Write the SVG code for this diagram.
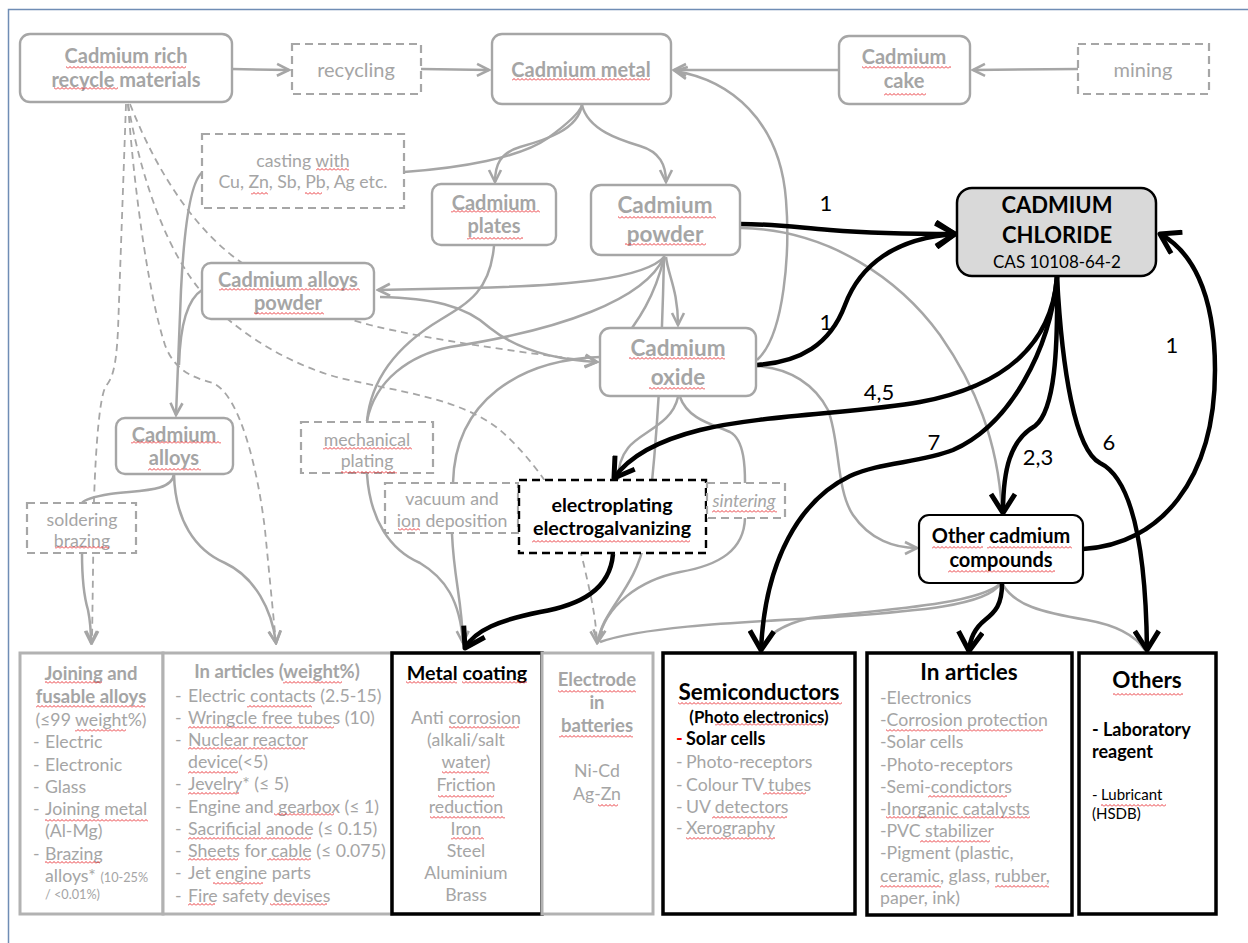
<svg xmlns="http://www.w3.org/2000/svg" width="1248" height="943" viewBox="0 0 1248 943">
<defs>
<style>
text{font-family:Lato,"Liberation Sans",sans-serif}
.n rect{fill:#fff;stroke:#a6a6a6;stroke-width:2.4}
.nd rect{fill:#fff;stroke:#a6a6a6;stroke-width:2.2;stroke-dasharray:8 5}
.gt{fill:#a5a5a5;font-weight:bold;font-size:20px;text-anchor:middle}
.gtl{fill:#a5a5a5;font-weight:bold;font-size:22.5px;text-anchor:middle}
.gr{fill:#a5a5a5;font-size:17.7px;text-anchor:middle}
.g{fill:none;stroke:#a6a6a6;stroke-width:2.5}
.d{fill:none;stroke:#a6a6a6;stroke-width:1.8;stroke-dasharray:7 5}
.b{fill:none;stroke:#000;stroke-width:4.5}
.lbl{font-size:22px;fill:#000;text-anchor:middle}
.gb{fill:#fff;stroke:#b2b2b2;stroke-width:3}
.kb{fill:#fff;stroke:#000;stroke-width:3.5}
.bh{font-weight:bold;font-size:18.5px;fill:#a5a5a5;text-anchor:middle}
.gl{font-size:17.7px;fill:#a5a5a5}
.sm{font-size:12.7px}
.kh{font-weight:bold;fill:#000;text-anchor:middle;font-size:22.5px}
.sq{fill:url(#sq)}
</style>
<pattern id="sq" width="4" height="3" patternUnits="userSpaceOnUse"><path d="M0,2.5 L2,0.5 L4,2.5" fill="none" stroke="#e8262a" stroke-width="0.9"/></pattern>
<marker id="ag" viewBox="0 0 16 16" refX="14" refY="8" markerWidth="16" markerHeight="16" orient="auto" markerUnits="userSpaceOnUse"><path d="M2,2 L14,8 L2,14" fill="none" stroke="#a6a6a6" stroke-width="2.6"/></marker>
<marker id="ab" viewBox="0 0 28 28" refX="24" refY="14" markerWidth="28" markerHeight="28" orient="auto" markerUnits="userSpaceOnUse"><path d="M5,2 L24,14 L5,26" fill="none" stroke="#000" stroke-width="5" stroke-linejoin="round"/></marker>
</defs>
<rect width="1248" height="943" fill="#fff"/>
<path d="M8.5,943 L8.5,9.5 L1248,9.5" fill="none" stroke="#6f8db5" stroke-width="1.5"/>

<g id="connectors">
<!-- gray solid -->
<path class="g" d="M232,69 L289,70" marker-end="url(#ag)"/>
<path class="g" d="M421,69 L489,70" marker-end="url(#ag)"/>
<path class="g" d="M1078,69 L973,70" marker-end="url(#ag)"/>
<path class="g" d="M839,70 L674,70" marker-end="url(#ag)"/>
<path class="g" d="M757,360 C785,335 790,250 786,200 C780,120 730,80 675,71" marker-end="url(#ag)"/>
<path class="g" d="M582,105 C578,130 545,140 520,147 C500,153 495,165 495,182" marker-end="url(#ag)"/>
<path class="g" d="M582,105 C588,130 620,140 640,146 C660,152 666,165 666,182" marker-end="url(#ag)"/>
<path class="g" d="M404,172 C460,168 520,158 548,138 C570,122 580,112 582,105"/>
<path class="g" d="M203,172 C190,180 184,230 181,290 L176,415" marker-end="url(#ag)"/>
<path class="g" d="M202,290 C186,300 180,330 179,365"/>
<path class="g" d="M665,256 C645,280 560,286 470,288 L378,290" marker-end="url(#ag)"/>
<path class="g" d="M494,246 C490,290 470,302 440,320 C410,338 372,370 367,421"/>
<path class="g" d="M664,257 C645,300 560,330 450,347 C410,355 375,380 367,421"/>
<path class="g" d="M380,297 C430,298 465,305 490,328 C520,352 560,360 597,362" marker-end="url(#ag)"/>
<path class="g" d="M664,258 C655,295 640,320 615,350"/>
<path class="g" d="M600,357 C520,360 455,400 453,483"/>
<path class="g" d="M666,257 C668,275 678,290 678,325" marker-end="url(#ag)"/>
<path class="g" d="M664,257 C662,350 658,450 645,540 C635,590 602,610 598,642" marker-end="url(#ag)"/>
<path class="g" d="M452,534 C454,580 462,600 463,643" marker-end="url(#ag)"/>
<path class="g" d="M367,474 C370,520 390,550 420,563 C445,578 460,600 463,643"/>
<path class="g" d="M678,397 C672,425 640,432 628,448 C620,458 618,470 618,480"/>
<path class="g" d="M680,397 C688,420 715,425 730,432 C745,440 745,470 745,483"/>
<path class="g" d="M745,518 C744,550 720,565 680,572 C640,580 605,605 598,642"/>
<path class="g" d="M757,366 C790,368 815,385 828,410 C840,440 836,490 853,515 C870,540 895,548 917,548" marker-end="url(#ag)"/>
<path class="g" d="M741,228 C830,230 900,280 940,335 C975,385 998,440 1002,512"/>
<path class="g" d="M1000,584 C985,608 900,612 820,618 C720,623 640,628 600,642"/>
<path class="g" d="M1000,584 C975,605 880,610 810,618 C780,625 765,637 762,650"/>
<path class="g" d="M1003,585 C1015,605 1040,612 1087,620 C1115,625 1135,635 1145,650"/>
<path class="g" d="M174,474 C172,492 140,490 110,494 C92,497 84,500 82,503"/>
<path class="g" d="M82,553 C82,580 85,600 88,610 C90,620 91,630 91,643" marker-end="url(#ag)"/>
<path class="g" d="M174,474 C175,520 195,550 225,563 C255,577 272,610 276,643" marker-end="url(#ag)"/>
<!-- gray dashed -->
<path class="d" d="M126,104 L118,330 C116,370 112,378 106,386 C100,395 96,440 94,500 L92,643" marker-end="url(#ag)"/>
<path class="d" d="M128,104 C135,200 150,300 165,345 C175,372 195,378 213,383 C240,395 258,470 265,530 L276,643" marker-end="url(#ag)"/>
<path class="d" d="M130,104 C160,180 200,235 245,265 C290,295 330,315 370,325 C430,340 520,352 597,362" marker-end="url(#ag)"/>
<path class="d" d="M128,104 C145,200 175,260 200,290 C230,330 290,365 340,378 C400,392 460,398 500,430 C540,465 575,520 585,570 C592,600 596,620 597,643" marker-end="url(#ag)"/>
<!-- black -->
<path class="b" d="M740,224 C780,224 800,228 830,230 C880,234 920,234 955,234" marker-end="url(#ab)"/>
<path class="b" d="M757,365 C800,362 830,345 845,305 C860,265 895,238 955,234" marker-end="url(#ab)"/>
<path class="b" d="M1057,277 C1052,340 1010,385 920,402 C860,413 760,415 700,430 C660,440 630,455 614,478" marker-end="url(#ab)"/>
<path class="b" d="M1057,277 C1050,350 1010,425 953,450 C920,463 880,462 850,476 C800,500 765,560 761,650" marker-end="url(#ab)"/>
<path class="b" d="M1057,277 C1058,350 1055,410 1035,426 C1010,440 1003,470 1003,513" marker-end="url(#ab)"/>
<path class="b" d="M1057,277 C1062,370 1075,450 1100,463 C1135,480 1146,560 1147,650" marker-end="url(#ab)"/>
<path class="b" d="M1083,549 C1160,545 1215,480 1215,370 C1215,290 1190,250 1160,234" marker-end="url(#ab)"/>
<path class="b" d="M613,554 C610,590 580,605 540,612 C500,620 475,630 465,648" marker-end="url(#ab)"/>
<path class="b" d="M1002,584 C1002,605 995,612 985,620 C975,628 970,638 969,651" marker-end="url(#ab)"/>
<!-- labels -->
<text class="lbl" x="826" y="211">1</text>
<text class="lbl" x="826" y="330">1</text>
<text class="lbl" x="879" y="400">4,5</text>
<text class="lbl" x="934" y="450">7</text>
<text class="lbl" x="1038" y="465">2,3</text>
<text class="lbl" x="1109" y="450">6</text>
<text class="lbl" x="1172" y="353">1</text>
</g>

<g id="recycle-materials" class="n"><rect x="20" y="34" width="212" height="68" rx="10"/><text class="gt" x="126" y="63">Cadmium rich</text><text class="gt" x="126" y="87">recycle materials</text></g>
<g id="recycling" class="nd"><rect x="292" y="44" width="129" height="50"/><text class="gt" style="font-weight:normal" x="356" y="77">recycling</text></g>
<g id="cadmium-metal" class="n"><rect x="492" y="34" width="179" height="70" rx="10"/><text class="gt" x="581" y="77">Cadmium metal</text></g>
<g id="cadmium-cake" class="n"><rect x="839" y="36" width="131" height="68" rx="10"/><text class="gt" x="904" y="64">Cadmium</text><text class="gt" x="904" y="88">cake</text></g>
<g id="mining" class="nd"><rect x="1078" y="44" width="131" height="50"/><text class="gt" style="font-weight:normal" x="1143" y="77">mining</text></g>
<g id="casting" class="nd"><rect x="202" y="134" width="202" height="74"/><text class="gr" x="303" y="167">casting with</text><text class="gr" x="303" y="188">Cu, Zn, Sb, Pb, Ag etc.</text></g>
<g id="cadmium-plates" class="n"><rect x="432" y="184" width="124" height="61" rx="9"/><text class="gt" x="494" y="210">Cadmium</text><text class="gt" x="494" y="233">plates</text></g>
<g id="cadmium-powder" class="n"><rect x="591" y="185" width="149" height="70" rx="10"/><text class="gtl" x="665" y="213">Cadmium</text><text class="gtl" x="665" y="242">powder</text></g>
<g id="cadmium-alloys-powder" class="n"><rect x="202" y="263" width="172" height="56" rx="9"/><text class="gt" x="288" y="287">Cadmium alloys</text><text class="gt" x="288" y="310">powder</text></g>
<g id="cadmium-oxide" class="n"><rect x="600" y="328" width="156" height="68" rx="10"/><text class="gtl" x="678" y="356">Cadmium</text><text class="gtl" x="678" y="385">oxide</text></g>
<g id="cadmium-alloys" class="n"><rect x="116" y="418" width="117" height="56" rx="9"/><text class="gt" x="174" y="442">Cadmium</text><text class="gt" x="174" y="465">alloys</text></g>
<g id="mechanical-plating" class="nd"><rect x="301" y="422" width="132" height="51"/><text class="gr" x="367" y="446">mechanical</text><text class="gr" x="367" y="467">plating</text></g>
<g id="soldering" class="nd"><rect x="27" y="503" width="109" height="50"/><text class="gr" x="82" y="526">soldering</text><text class="gr" x="82" y="547">brazing</text></g>
<g id="vacuum" class="nd"><rect x="385" y="483" width="133" height="50"/><text class="gr" x="452" y="505">vacuum and</text><text class="gr" x="452" y="527">ion deposition</text></g>
<g id="electroplating"><rect x="519" y="480" width="187" height="73" fill="#fff" stroke="#000" stroke-width="2.4" stroke-dasharray="8 5"/><text class="kh" style="font-size:19.7px" x="612" y="512">electroplating</text><text class="kh" style="font-size:19.7px" x="612" y="535">electrogalvanizing</text></g>
<g id="sintering" class="nd"><rect x="707" y="483" width="78" height="35"/><text class="gr" style="font-style:italic" x="744" y="507">sintering</text></g>
<g id="cadmium-chloride"><rect x="957" y="188" width="199" height="88" rx="15" fill="#d9d9d9" stroke="#000" stroke-width="2.5"/><text class="kh" style="font-size:22px" x="1057" y="213">CADMIUM</text><text class="kh" style="font-size:22px" x="1057" y="243">CHLORIDE</text><text x="1057" y="268" font-size="17" text-anchor="middle">CAS 10108-64-2</text></g>
<g id="other-compounds"><rect x="919" y="515" width="164" height="68" rx="10" fill="#fff" stroke="#000" stroke-width="2.2"/><text class="kh" style="font-size:20px" x="1001" y="543">Other cadmium</text><text class="kh" style="font-size:20px" x="1001" y="567">compounds</text></g>

<g id="joining">
<rect class="gb" x="20" y="653" width="143" height="261"/>
<text class="bh" x="91" y="680">Joining and</text>
<text class="bh" x="91" y="703">fusable alloys</text>
<text class="gl" x="91" y="726" text-anchor="middle">(≤99 weight%)</text>
<text class="gl" y="748"><tspan x="33">-</tspan><tspan x="45">Electric</tspan></text>
<text class="gl" y="771"><tspan x="33">-</tspan><tspan x="45">Electronic</tspan></text>
<text class="gl" y="793"><tspan x="33">-</tspan><tspan x="45">Glass</tspan></text>
<text class="gl" y="815"><tspan x="33">-</tspan><tspan x="45">Joining metal</tspan></text>
<text class="gl" x="45" y="837">(Al-Mg)</text>
<text class="gl" y="860"><tspan x="33">-</tspan><tspan x="45">Brazing</tspan></text>
<text class="gl" x="45" y="882">alloys* <tspan class="sm">(10-25%</tspan></text>
<text class="gl sm" x="45" y="899">/ &lt;0.01%)</text>
</g>
<g id="in-articles-weight">
<rect class="gb" x="163" y="653" width="229" height="261"/>
<text class="bh" x="277" y="678">In articles (weight%)</text>
<text class="gl" y="702"><tspan x="175">-</tspan><tspan x="188">Electric contacts (2.5-15)</tspan></text>
<text class="gl" y="724"><tspan x="175">-</tspan><tspan x="188">Wringcle free tubes (10)</tspan></text>
<text class="gl" y="746"><tspan x="175">-</tspan><tspan x="188">Nuclear reactor</tspan></text>
<text class="gl" x="188" y="768">device(&lt;5)</text>
<text class="gl" y="790"><tspan x="175">-</tspan><tspan x="188">Jevelry* (≤ 5)</tspan></text>
<text class="gl" y="813"><tspan x="175">-</tspan><tspan x="188">Engine and gearbox (≤ 1)</tspan></text>
<text class="gl" y="835"><tspan x="175">-</tspan><tspan x="188">Sacrificial anode  (≤ 0.15)</tspan></text>
<text class="gl" y="857"><tspan x="175">-</tspan><tspan x="188">Sheets for cable (≤ 0.075)</tspan></text>
<text class="gl" y="879"><tspan x="175">-</tspan><tspan x="188">Jet engine parts</tspan></text>
<text class="gl" y="902"><tspan x="175">-</tspan><tspan x="188">Fire safety devises</tspan></text>
</g>
<g id="metal-coating">
<rect class="kb" x="392" y="653" width="150" height="261"/>
<text class="kh" style="font-size:19.7px" x="467" y="680">Metal coating</text>
<g class="gr"><text x="466" y="724">Anti corrosion</text><text x="466" y="746">(alkali/salt</text><text x="466" y="768">water)</text><text x="466" y="791">Friction</text><text x="466" y="813">reduction</text><text x="466" y="835">Iron</text><text x="466" y="857">Steel</text><text x="466" y="879">Aluminium</text><text x="466" y="901">Brass</text></g>
</g>
<g id="electrode">
<rect class="gb" x="542" y="653" width="111" height="261"/>
<text class="bh" x="597" y="686">Electrode</text><text class="bh" x="597" y="709">in</text><text class="bh" x="597" y="732">batteries</text>
<text class="gr" x="597" y="777">Ni-Cd</text><text class="gr" x="597" y="800">Ag-Zn</text>
</g>
<g id="semiconductors">
<rect class="kb" x="663" y="653" width="192" height="261"/>
<text class="kh" x="759" y="700">Semiconductors</text>
<text class="kh" style="font-size:16.8px" x="759" y="723">(Photo electronics)</text>
<text y="745" font-weight="bold" font-size="18px"><tspan x="676" fill="#ff0000">-</tspan><tspan x="686">Solar cells</tspan></text>
<text class="gl" y="768"><tspan x="676">-</tspan><tspan x="686">Photo-receptors</tspan></text>
<text class="gl" y="791"><tspan x="676">-</tspan><tspan x="686">Colour TV tubes</tspan></text>
<text class="gl" y="813"><tspan x="676">-</tspan><tspan x="686">UV detectors</tspan></text>
<text class="gl" y="834"><tspan x="676">-</tspan><tspan x="686">Xerography</tspan></text>
</g>
<g id="in-articles">
<rect class="kb" x="867" y="653" width="205" height="262"/>
<text class="kh" x="969" y="680">In articles</text>
<g class="gl"><text x="880" y="704">-Electronics</text><text x="880" y="726">-Corrosion protection</text><text x="880" y="748">-Solar cells</text><text x="880" y="771">-Photo-receptors</text><text x="880" y="793">-Semi-condictors</text><text x="880" y="815">-Inorganic catalysts</text><text x="880" y="837">-PVC stabilizer</text><text x="880" y="859">-Pigment (plastic,</text><text x="880" y="882">ceramic, glass, rubber,</text><text x="880" y="904">paper, ink)</text></g>
</g>
<g id="others">
<rect class="kb" x="1079" y="653" width="137" height="261"/>
<text class="kh" x="1147" y="688">Others</text>
<text y="736" font-weight="bold" font-size="18px"><tspan x="1092">-</tspan><tspan x="1103">Laboratory</tspan></text>
<text x="1092" y="758" font-weight="bold" font-size="18px">reagent</text>
<text y="800" font-size="15px"><tspan x="1092">-</tspan><tspan x="1101">Lubricant</tspan></text>
<text x="1092" y="819" font-size="15px">(HSDB)</text>
</g>

<g id="spelling-marks">
<rect class="sq" x="66" y="66" width="120" height="3"/>
<rect class="sq" x="54" y="87" width="64" height="3"/>
<rect class="sq" x="512" y="78" width="138" height="3"/>
<rect class="sq" x="862" y="66" width="89" height="3"/>
<rect class="sq" x="884" y="93" width="42" height="3"/>
<rect class="sq" x="316" y="168" width="33" height="3"/>
<rect class="sq" x="251" y="192" width="17" height="3"/>
<rect class="sq" x="305" y="192" width="17" height="3"/>
<rect class="sq" x="451" y="210" width="89" height="3"/>
<rect class="sq" x="467" y="237" width="56" height="3"/>
<rect class="sq" x="618" y="216" width="98" height="3"/>
<rect class="sq" x="625" y="243" width="81" height="3"/>
<rect class="sq" x="219" y="288" width="141" height="3"/>
<rect class="sq" x="254" y="312" width="70" height="3"/>
<rect class="sq" x="629" y="357" width="96" height="3"/>
<rect class="sq" x="649" y="387" width="56" height="3"/>
<rect class="sq" x="131" y="441" width="90" height="3"/>
<rect class="sq" x="148" y="468" width="53" height="3"/>
<rect class="sq" x="323" y="447" width="89" height="3"/>
<rect class="sq" x="341" y="471" width="56" height="3"/>
<rect class="sq" x="55" y="546" width="54" height="3"/>
<rect class="sq" x="398" y="528" width="22" height="3"/>
<rect class="sq" x="532" y="540" width="158" height="3"/>
<rect class="sq" x="712" y="510" width="65" height="3"/>
<rect class="sq" x="932" y="546" width="51" height="3"/>
<rect class="sq" x="987" y="546" width="85" height="3"/>
<rect class="sq" x="948" y="570" width="107" height="3"/>
<rect class="sq" x="45" y="681" width="57" height="3"/>
<rect class="sq" x="36" y="705" width="109" height="3"/>
<rect class="sq" x="75" y="729" width="51" height="3"/>
<rect class="sq" x="45" y="819" width="103" height="3"/>
<rect class="sq" x="45" y="861" width="55" height="3"/>
<rect class="sq" x="283" y="681" width="59" height="3"/>
<rect class="sq" x="247" y="705" width="65" height="3"/>
<rect class="sq" x="188" y="726" width="146" height="3"/>
<rect class="sq" x="188" y="747" width="117" height="3"/>
<rect class="sq" x="188" y="771" width="50" height="3"/>
<rect class="sq" x="188" y="792" width="51" height="3"/>
<rect class="sq" x="274" y="813" width="60" height="3"/>
<rect class="sq" x="188" y="837" width="123" height="3"/>
<rect class="sq" x="188" y="858" width="50" height="3"/>
<rect class="sq" x="267" y="858" width="44" height="3"/>
<rect class="sq" x="213" y="882" width="50" height="3"/>
<rect class="sq" x="188" y="903" width="27" height="3"/>
<rect class="sq" x="270" y="903" width="57" height="3"/>
<rect class="sq" x="406" y="681" width="51" height="3"/>
<rect class="sq" x="462" y="681" width="65" height="3"/>
<rect class="sq" x="449" y="726" width="70" height="3"/>
<rect class="sq" x="442" y="771" width="47" height="3"/>
<rect class="sq" x="438" y="795" width="56" height="3"/>
<rect class="sq" x="430" y="816" width="75" height="3"/>
<rect class="sq" x="451" y="837" width="33" height="3"/>
<rect class="sq" x="558" y="690" width="78" height="3"/>
<rect class="sq" x="559" y="735" width="74" height="3"/>
<rect class="sq" x="598" y="804" width="20" height="3"/>
<rect class="sq" x="678" y="702" width="164" height="3"/>
<rect class="sq" x="715" y="723" width="107" height="3"/>
<rect class="sq" x="763" y="792" width="43" height="3"/>
<rect class="sq" x="712" y="816" width="75" height="3"/>
<rect class="sq" x="686" y="837" width="89" height="3"/>
<rect class="sq" x="886" y="729" width="157" height="3"/>
<rect class="sq" x="928" y="795" width="79" height="3"/>
<rect class="sq" x="886" y="816" width="144" height="3"/>
<rect class="sq" x="920" y="840" width="70" height="3"/>
<rect class="sq" x="880" y="885" width="61" height="3"/>
<rect class="sq" x="995" y="885" width="54" height="3"/>
<rect class="sq" x="1113" y="693" width="70" height="3"/>
<rect class="sq" x="1101" y="804" width="65" height="3"/>
</g>
</svg>
